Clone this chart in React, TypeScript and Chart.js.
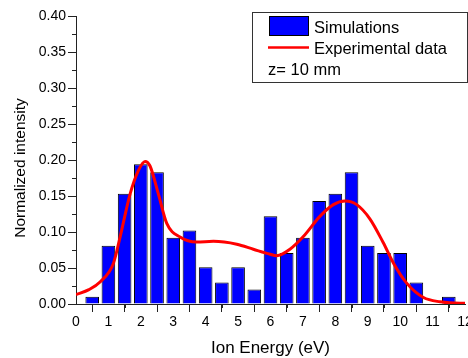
import React, { useEffect, useRef } from "react";
import { Chart, registerables } from "chart.js";

Chart.register(...registerables);

const binCenters = [0.5, 1.0, 1.5, 2.0, 2.5, 3.0, 3.5, 4.0, 4.5, 5.0, 5.5, 6.0, 6.5, 7.0, 7.5, 8.0, 8.5, 9.0, 9.5, 10.0, 10.5, 11.0, 11.5];
const simValues = [0.010, 0.081, 0.153, 0.194, 0.183, 0.092, 0.102, 0.051, 0.030, 0.051, 0.020, 0.122, 0.071, 0.092, 0.143, 0.153, 0.183, 0.081, 0.071, 0.071, 0.030, 0.0, 0.010];

const expEnergy = [0.0, 0.4, 0.75, 1.15, 1.36, 1.67, 1.92, 2.13, 2.28, 2.54, 2.8, 3.21, 3.72, 4.24, 4.96, 5.47, 5.99, 6.19, 6.6, 7.02, 7.53, 7.94, 8.3, 8.66, 9.07, 9.48, 9.79, 10.2, 10.72, 11.23, 11.85, 12.0];
const expValues = [0.013, 0.020, 0.031, 0.056, 0.093, 0.153, 0.185, 0.198, 0.192, 0.153, 0.112, 0.093, 0.086, 0.087, 0.083, 0.076, 0.069, 0.067, 0.076, 0.094, 0.122, 0.138, 0.143, 0.138, 0.118, 0.085, 0.057, 0.029, 0.009, 0.003, 0.001, 0.001];

const xTickValues = [0, 1, 2, 3, 4, 5, 6, 7, 8, 9, 10, 11, 12];
const yTickValues = [0, 0.05, 0.1, 0.15, 0.2, 0.25, 0.3, 0.35, 0.4];

const legendLabels = ["Simulations", "Experimental data", "z= 10 mm"];
const xTitle = "Ion Energy (eV)";
const yTitle = "Normalized intensity";

const FONT = "'Liberation Sans', Arial, sans-serif";

const extrasPlugin = {
  id: "extras",
  afterDraw(chart: any) {
    const ctx = chart.ctx as CanvasRenderingContext2D;
    const xs = chart.scales.x;
    const ys = chart.scales.y;
    ctx.save();
    // minor ticks
    ctx.strokeStyle = "#222";
    ctx.lineWidth = 1;
    ctx.beginPath();
    for (let i = 0; i < xTickValues.length - 1; i++) {
      const v = (xTickValues[i] + xTickValues[i + 1]) / 2;
      const px = Math.round(xs.getPixelForValue(v)) + 0.5;
      ctx.moveTo(px, ys.bottom);
      ctx.lineTo(px, ys.bottom + 4);
    }
    for (let i = 0; i < yTickValues.length - 1; i++) {
      const v = (yTickValues[i] + yTickValues[i + 1]) / 2;
      const py = Math.round(ys.getPixelForValue(v)) + 0.5;
      ctx.moveTo(xs.left - 4, py);
      ctx.lineTo(xs.left, py);
    }
    ctx.stroke();

    // axis titles
    ctx.fillStyle = "#000";
    ctx.font = `17px ${FONT}`;
    ctx.textAlign = "center";
    ctx.textBaseline = "middle";
    ctx.fillText(xTitle, (xs.left + xs.right) / 2, 348);
    ctx.save();
    ctx.translate(21, 168);
    ctx.rotate(-Math.PI / 2);
    ctx.font = `15.5px ${FONT}`;
    ctx.fillText(yTitle, 0, 0);
    ctx.restore();

    // legend box
    ctx.fillStyle = "#fff";
    ctx.fillRect(252.5, 12.5, 215, 70);
    ctx.strokeStyle = "#333";
    ctx.lineWidth = 1;
    ctx.strokeRect(252.5, 12.5, 215, 70);
    ctx.fillStyle = "#0000ff";
    ctx.fillRect(269.5, 16.5, 39, 19);
    ctx.strokeStyle = "#000";
    ctx.strokeRect(269.5, 16.5, 39, 19);
    ctx.strokeStyle = "#ff0000";
    ctx.lineWidth = 2.5;
    ctx.beginPath();
    ctx.moveTo(268, 47.5);
    ctx.lineTo(309, 47.5);
    ctx.stroke();
    ctx.fillStyle = "#000";
    ctx.font = `16.5px ${FONT}`;
    ctx.textAlign = "left";
    ctx.textBaseline = "alphabetic";
    ctx.fillText(legendLabels[0], 314, 33);
    ctx.fillText(legendLabels[1], 314, 54);
    ctx.fillText(legendLabels[2], 268, 75);
    ctx.restore();
  },
};

export default function App() {
  const ref = useRef<HTMLCanvasElement | null>(null);
  useEffect(() => {
    document.body.style.margin = "0";
    const canvas = ref.current;
    if (!canvas) return;
    const chart = new Chart(canvas, {
      type: "bar",
      data: {
        datasets: [
          {
            type: "line",
            label: legendLabels[1],
            data: expEnergy.map((x, i) => ({ x, y: expValues[i] })),
            borderColor: "#ff0000",
            borderWidth: 3,
            pointRadius: 0,
            tension: 0.4,
            cubicInterpolationMode: "monotone",
            fill: false,
            order: 0,
          } as any,
          {
            type: "bar",
            label: legendLabels[0],
            data: binCenters.map((x, i) => ({ x, y: simValues[i] })),
            backgroundColor: "#0000ff",
            borderColor: "#000",
            borderWidth: 1,
            barPercentage: 0.84,
            categoryPercentage: 1,
            order: 1,
          } as any,
        ],
      },
      options: {
        responsive: false,
        animation: false,
        devicePixelRatio: 1,
        layout: { padding: { left: 0, top: 16, right: 3, bottom: 0 } },
        plugins: { legend: { display: false }, tooltip: { enabled: false } },
        scales: {
          x: {
            type: "linear",
            min: 0,
            max: 12,
            offset: false,
            afterFit(scale: any) {
              scale.height = 54;
              scale.paddingLeft = 0;
              scale.paddingRight = 0;
            },
            afterBuildTicks(scale: any) {
              scale.ticks = xTickValues.map((v) => ({ value: v }));
            },
            ticks: {
              color: "#000",
              font: { family: FONT, size: 14 },
              padding: 2,
              maxRotation: 0,
              autoSkip: false,
              callback: (v: any) => String(v),
            },
            grid: { drawOnChartArea: false, drawTicks: true, tickLength: 8, color: "#222" },
            border: { display: true, color: "#222", width: 1 },
          },
          y: {
            type: "linear",
            min: 0,
            max: 0.4,
            afterFit(scale: any) {
              scale.width = 76;
              scale.paddingTop = 0;
              scale.paddingBottom = 0;
            },
            afterBuildTicks(scale: any) {
              scale.ticks = yTickValues.map((v) => ({ value: v }));
            },
            ticks: {
              color: "#000",
              font: { family: FONT, size: 14 },
              padding: 2,
              autoSkip: false,
              callback: (v: any) => Number(v).toFixed(2),
            },
            grid: { drawOnChartArea: false, drawTicks: true, tickLength: 8, color: "#222" },
            border: { display: true, color: "#222", width: 1 },
          },
        },
      },
      plugins: [extrasPlugin],
    } as any);
    return () => chart.destroy();
  }, []);
  return (
    <div style={{ width: 468, height: 358 }}>
      <canvas ref={ref} width={468} height={358} style={{ display: "block", width: 468, height: 358 }} />
    </div>
  );
}
